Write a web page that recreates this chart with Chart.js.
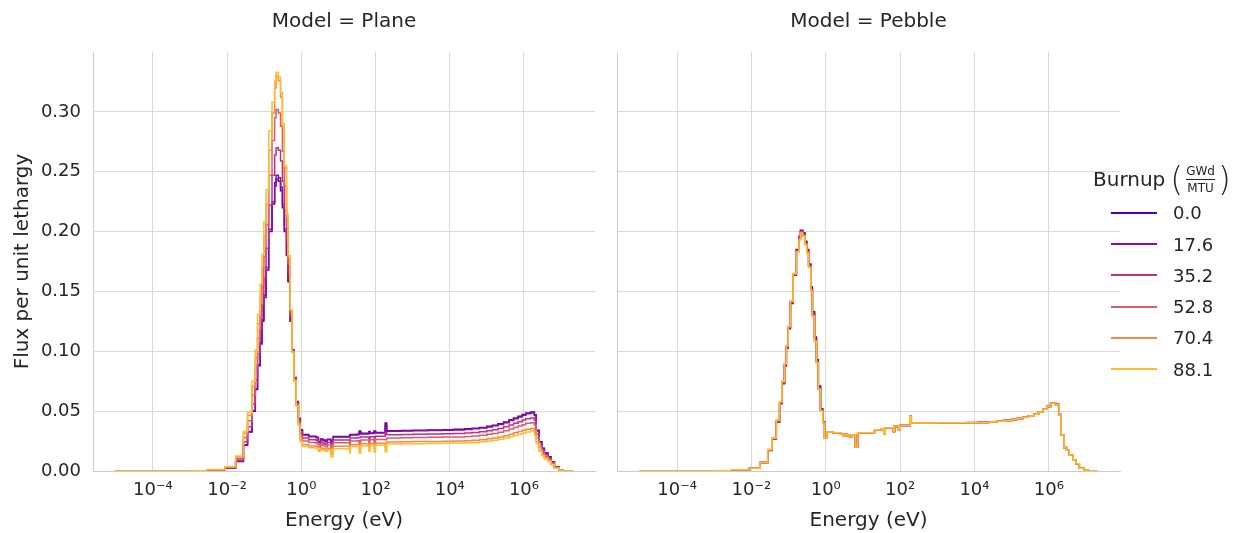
<!DOCTYPE html>
<html>
<head>
<meta charset="utf-8">
<script src="https://cdn.jsdelivr.net/npm/chart.js@4.4.1/dist/chart.umd.min.js"></script>
<style>
  html, body { margin: 0; padding: 0; background: #ffffff; }
  #wrap { position: relative; width: 1239px; height: 533px; overflow: hidden;
          font-family: "DejaVu Sans", sans-serif; color: #262626; }
  #wrap canvas { position: absolute; left: 0; top: 0; }
  .legend-title { position: absolute; left: 1093px; top: 160px; height: 38px;
                  display: flex; align-items: center; white-space: nowrap; }
  .legend-title .word { font-size: 20px; }
  .legend-title .paren { font-size: 33px; font-weight: 300; line-height: 1; margin: 0 1px; }
  .legend-title .frac { display: inline-flex; flex-direction: column; align-items: center;
                        font-size: 12px; line-height: 1; margin: 0 1px; }
  .legend-title .frac .num { padding: 0 1px 2px; }
  .legend-title .frac .den { padding: 2px 1px 0; border-top: 1px solid #262626; }
  .legend-row { position: absolute; left: 1111px; height: 20px; display: flex; align-items: center; }
  .legend-row .swatch { width: 46px; height: 2px; }
  .legend-row .txt { margin-left: 16px; font-size: 18px; }
</style>
</head>
<body>
<div id="wrap">
  <canvas id="plane" width="1239" height="533"></canvas>
  <canvas id="pebble" width="1239" height="533"></canvas>
  <div class="legend-title">
    <span class="word">Burnup</span>
    <span class="paren" style="margin-left:5px">(</span>
    <span class="frac"><span class="num">GWd</span><span class="den">MTU</span></span>
    <span class="paren">)</span>
  </div>
  <div id="legend"></div>
</div>
<script>
// Group lower edges in eV (last entry is the upper edge of the final group).
const ENERGY_EV = [
  1e-5, 1e-3, 2.82e-3, 8.91e-3, 1.70e-2, 2.75e-2, 3.55e-2, 4.68e-2, 5.75e-2, 6.61e-2,
  7.76e-2, 8.71e-2, 9.77e-2, 0.112, 0.132, 0.162, 0.191, 0.209, 0.240, 0.275,
  0.309, 0.347, 0.398, 0.437, 0.501, 0.562, 0.631, 0.724, 0.832, 0.933,
  1.07, 1.58, 2.51, 2.88, 3.31, 3.80, 4.37, 5.01, 6.31, 7.24,
  20.0, 20.9, 31.6, 36.3, 39.8, 66.1, 70.8, 91.2, 100, 182,
  200, 501, 1e3, 2.51e3, 6.31e3, 1.26e4, 2.51e4, 3.98e4, 6.31e4, 1e5,
  1.41e5, 2.0e5, 2.82e5, 3.98e5, 5.25e5, 6.92e5, 8.91e5,
  1.12e6, 1.51e6, 1.91e6, 2.14e6, 2.57e6, 3.02e6, 3.55e6, 4.47e6, 5.37e6, 6.61e6,
  8.91e6, 1.12e7, 2.0e7
];

const BURNUP_LABELS = ['0.0', '17.6', '35.2', '52.8', '70.4', '88.1'];

// Flux per unit lethargy, one value per group — plane model.
const PLANE_B00 = [
  0, .0002, .0008, .0026, .0080, .0215, .0325, .0500, .0680, .0880,
  .1060, .1250, .1450, .1680, .2000, .2230, .2380, .2440, .2420, .2340,
  .2200, .2000, .1800, .1580, .1250, .1010, .0780, .0580, .0440, .0345,
  .0305, .0290, .0282, .0245, .0268, .0258, .0248, .0265, .0240, .0288,
  .0300, .0305, .0308, .0335, .0315, .0330, .0318, .0335, .0322, .0400,
  .0337, .0339, .0341, .0343, .0345, .0348, .0352, .0357, .0364, .0373,
  .0383, .0395, .0410, .0428, .0443, .0458, .0472,
  .0485, .0492, .0470, .0340, .0245, .0190, .0150, .0118, .0078, .0036, .0010, .0002
];
const PLANE_B176 = [
  0, .0002, .0008, .0027, .0082, .0220, .0330, .0505, .0690, .0890,
  .1075, .1265, .1470, .1700, .2020, .2250, .2410, .2470, .2450, .2370,
  .2230, .2020, .1810, .1590, .1255, .1010, .0778, .0576, .0436, .0341,
  .0300, .0286, .0278, .0241, .0264, .0254, .0244, .0261, .0230, .0284,
  .0296, .0300, .0303, .0325, .0310, .0320, .0313, .0325, .0317, .0380,
  .0332, .0334, .0336, .0338, .0340, .0343, .0347, .0352, .0359, .0367,
  .0377, .0389, .0404, .0422, .0436, .0451, .0465,
  .0478, .0485, .0463, .0335, .0241, .0187, .0148, .0116, .0077, .0035, .0010, .0002
];
const PLANE_B352 = [
  0, .0002, .0009, .0029, .0092, .0245, .0370, .0560, .0760, .0980,
  .1180, .1390, .1610, .1860, .2220, .2470, .2640, .2700, .2680, .2590,
  .2420, .2180, .1920, .1660, .1290, .1005, .0770, .0565, .0420, .0315,
  .0275, .0261, .0254, .0221, .0241, .0232, .0223, .0239, .0200, .0259,
  .0250, .0275, .0277, .0280, .0284, .0270, .0286, .0275, .0290, .0320,
  .0303, .0305, .0307, .0309, .0311, .0313, .0317, .0321, .0328, .0336,
  .0345, .0356, .0369, .0385, .0399, .0412, .0425,
  .0437, .0443, .0423, .0306, .0221, .0171, .0135, .0106, .0070, .0032, .0009, .0002
];
const PLANE_B528 = [
  0, .0003, .0010, .0032, .0105, .0280, .0420, .0635, .0860, .1110,
  .1330, .1550, .1790, .2060, .2470, .2760, .2950, .3020, .2990, .2880,
  .2670, .2380, .2040, .1730, .1320, .1000, .0762, .0555, .0405, .0290,
  .0250, .0238, .0231, .0201, .0220, .0212, .0203, .0217, .0170, .0236,
  .0210, .0250, .0253, .0230, .0258, .0230, .0261, .0235, .0264, .0260,
  .0276, .0278, .0280, .0281, .0283, .0285, .0289, .0293, .0298, .0306,
  .0314, .0324, .0336, .0351, .0363, .0376, .0387,
  .0398, .0403, .0385, .0279, .0201, .0156, .0123, .0097, .0064, .0030, .0008, .0002
];
const PLANE_B704 = [
  0, .0003, .0011, .0035, .0118, .0315, .0465, .0705, .0950, .1230,
  .1470, .1700, .1960, .2230, .2680, .2990, .3200, .3300, .3260, .3120,
  .2870, .2530, .2120, .1780, .1340, .0995, .0755, .0548, .0390, .0262,
  .0220, .0209, .0203, .0176, .0193, .0186, .0179, .0191, .0140, .0207,
  .0175, .0220, .0222, .0185, .0227, .0195, .0229, .0195, .0232, .0200,
  .0243, .0244, .0246, .0247, .0248, .0251, .0253, .0257, .0262, .0269,
  .0276, .0284, .0295, .0308, .0319, .0330, .0340,
  .0349, .0354, .0338, .0245, .0176, .0137, .0108, .0085, .0056, .0026, .0007, .0001
];
const PLANE_B881 = [
  0, .0003, .0012, .0036, .0125, .0330, .0490, .0750, .1010, .1310,
  .1560, .1810, .2080, .2350, .2840, .3080, .3260, .3330, .3290, .3160,
  .2900, .2550, .2150, .1800, .1350, .0990, .0750, .0540, .0380, .0245,
  .0204, .0194, .0189, .0164, .0180, .0173, .0166, .0178, .0120, .0185,
  .0150, .0205, .0206, .0150, .0211, .0165, .0213, .0160, .0216, .0160,
  .0226, .0227, .0228, .0230, .0231, .0233, .0236, .0239, .0244, .0250,
  .0257, .0265, .0275, .0287, .0297, .0307, .0316,
  .0325, .0334, .0300, .0228, .0164, .0127, .0100, .0079, .0052, .0024, .0007, .0001
];

// Flux per unit lethargy, one value per group — pebble model.
const PEBBLE_B00 = [
  0, .0003, .0010, .0022, .0070, .0172, .0265, .0410, .0562, .0728,
  .0878, .1028, .1188, .1400, .1635, .1850, .1960, .2010, .1990, .1920,
  .1850, .1730, .1540, .1330, .1120, .0930, .0710, .0520, .0410, .0276,
  .0325, .0320, .0310, .0292, .0305, .0296, .0288, .0302, .0200, .0320,
  .0330, .0345, .0350, .0310, .0362, .0330, .0372, .0345, .0380, .0455,
  .0401, .0402, .0403, .0404, .0405, .0407, .0411, .0417, .0423, .0431,
  .0439, .0449, .0461, .0476, .0493, .0516, .0539,
  .0567, .0557, .0472, .0302, .0196, .0176, .0134, .0093, .0061, .0025, .0008, .0002
];
const PEBBLE_B176 = [
  0, .0003, .0010, .0022, .0070, .0174, .0267, .0414, .0566, .0733,
  .0883, .1033, .1193, .1405, .1638, .1845, .1950, .2005, .1980, .1910,
  .1840, .1720, .1525, .1315, .1105, .0920, .0700, .0512, .0406, .0276,
  .0325, .0320, .0310, .0292, .0305, .0296, .0288, .0302, .0200, .0320,
  .0330, .0345, .0350, .0310, .0362, .0330, .0372, .0345, .0380, .0455,
  .0400, .0401, .0402, .0403, .0404, .0406, .0410, .0416, .0422, .0430,
  .0438, .0448, .0460, .0475, .0492, .0515, .0538,
  .0566, .0556, .0471, .0301, .0196, .0175, .0133, .0092, .0060, .0024, .0008, .0002
];
const PEBBLE_B352 = [
  0, .0003, .0010, .0022, .0070, .0175, .0269, .0417, .0570, .0738,
  .0888, .1038, .1198, .1409, .1641, .1840, .1942, .2000, .1972, .1902,
  .1832, .1712, .1515, .1305, .1095, .0912, .0692, .0507, .0403, .0276,
  .0325, .0320, .0310, .0292, .0305, .0296, .0288, .0302, .0200, .0320,
  .0330, .0345, .0350, .0310, .0362, .0330, .0372, .0345, .0380, .0455,
  .0400, .0401, .0402, .0403, .0404, .0406, .0410, .0416, .0422, .0430,
  .0438, .0448, .0460, .0475, .0492, .0515, .0538,
  .0565, .0555, .0470, .0300, .0195, .0175, .0133, .0092, .0060, .0024, .0008, .0002
];
const PEBBLE_B528 = [
  0, .0003, .0010, .0022, .0070, .0177, .0271, .0420, .0574, .0743,
  .0893, .1043, .1203, .1413, .1644, .1835, .1936, .1995, .1966, .1896,
  .1826, .1706, .1508, .1297, .1087, .0906, .0686, .0503, .0402, .0276,
  .0325, .0320, .0310, .0292, .0305, .0296, .0288, .0302, .0200, .0320,
  .0330, .0345, .0350, .0310, .0362, .0330, .0372, .0345, .0380, .0455,
  .0400, .0401, .0402, .0403, .0404, .0406, .0410, .0416, .0422, .0430,
  .0438, .0448, .0460, .0475, .0492, .0515, .0538,
  .0565, .0555, .0470, .0300, .0195, .0175, .0133, .0092, .0060, .0024, .0008, .0002
];
const PEBBLE_B704 = [
  0, .0003, .0010, .0022, .0070, .0179, .0273, .0423, .0577, .0747,
  .0897, .1047, .1207, .1417, .1647, .1832, .1932, .1990, .1962, .1892,
  .1822, .1702, .1503, .1293, .1083, .0902, .0682, .0501, .0401, .0276,
  .0325, .0320, .0310, .0292, .0305, .0296, .0288, .0302, .0200, .0320,
  .0330, .0345, .0350, .0310, .0362, .0330, .0372, .0345, .0380, .0455,
  .0400, .0401, .0402, .0403, .0404, .0406, .0410, .0416, .0422, .0430,
  .0438, .0448, .0460, .0475, .0492, .0515, .0538,
  .0565, .0555, .0470, .0300, .0195, .0175, .0133, .0092, .0060, .0024, .0008, .0002
];
const PEBBLE_B881 = [
  0, .0003, .0010, .0022, .0070, .0180, .0275, .0425, .0580, .0750,
  .0900, .1050, .1210, .1420, .1650, .1830, .1930, .1985, .1960, .1890,
  .1820, .1700, .1500, .1290, .1080, .0900, .0680, .0500, .0400, .0276,
  .0325, .0320, .0310, .0292, .0305, .0296, .0288, .0302, .0200, .0320,
  .0330, .0345, .0350, .0310, .0362, .0330, .0372, .0345, .0380, .0455,
  .0400, .0401, .0402, .0403, .0404, .0406, .0410, .0416, .0422, .0430,
  .0438, .0448, .0460, .0475, .0492, .0515, .0538,
  .0565, .0555, .0470, .0300, .0195, .0175, .0133, .0092, .0060, .0024, .0008, .0002
];

const X_TICKS = [1e-4, 1e-2, 1, 1e2, 1e4, 1e6];
const X_TICK_LABELS = ['10\u207B\u2074', '10\u207B\u00B2', '10\u2070', '10\u00B2', '10\u2074', '10\u2076'];
const Y_TICKS = [0, 0.05, 0.10, 0.15, 0.20, 0.25, 0.30];

// Styling
const LINE_COLORS = ['#5402a3', '#8b0aa5', '#b83289', '#db5c68', '#f48849', '#febd2a'];
const TEXT = '#262626';
const GRID = '#d9d9d9';
const SPINE = '#cccccc';
const FONT = '"DejaVu Sans", sans-serif';
const W = 1239, H = 533;
const PLOT_TOP = 52, PLOT_BOTTOM = 471;
const X_LOG_MIN = -5.615, X_LOG_MAX = 7.915;

Chart.defaults.font.family = FONT;
Chart.defaults.color = TEXT;

// Each value holds from its lower edge up to the next edge.
function stepPoints(vals) {
  const pts = vals.map((v, i) => ({ x: ENERGY_EV[i], y: v }));
  pts.push({ x: ENERGY_EV[vals.length], y: vals[vals.length - 1] });
  return pts;
}

const panelTitle = {
  id: 'panelTitle',
  afterDraw(chart, args, opts) {
    const { ctx, chartArea } = chart;
    ctx.save();
    ctx.font = '20px ' + FONT;
    ctx.fillStyle = TEXT;
    ctx.textAlign = 'center';
    ctx.textBaseline = 'alphabetic';
    ctx.fillText(opts.text, (chartArea.left + chartArea.right) / 2, 27);
    ctx.restore();
  }
};

function makePanel(id, title, series, plotLeft, plotRight, showY) {
  const datasets = series.map((vals, i) => ({
    label: BURNUP_LABELS[i],
    data: stepPoints(vals),
    borderColor: LINE_COLORS[i],
    backgroundColor: LINE_COLORS[i],
    borderWidth: 1.5,
    pointRadius: 0,
    stepped: 'before',
    fill: false,
    order: series.length - i
  }));
  return new Chart(document.getElementById(id), {
    type: 'line',
    data: { datasets },
    options: {
      responsive: false,
      animation: false,
      devicePixelRatio: 1,
      layout: { padding: { left: 0, top: PLOT_TOP, right: W - plotRight, bottom: 0 } },
      plugins: {
        legend: { display: false },
        tooltip: { enabled: false },
        panelTitle: { text: title }
      },
      scales: {
        x: {
          type: 'logarithmic',
          min: Math.pow(10, X_LOG_MIN),
          max: Math.pow(10, X_LOG_MAX),
          afterFit: (s) => { s.height = H - PLOT_BOTTOM; },
          afterBuildTicks: (s) => { s.ticks = X_TICKS.map(v => ({ value: v })); },
          ticks: {
            callback: (v) => X_TICK_LABELS[X_TICKS.indexOf(v)],
            font: { size: 18 }, color: TEXT, padding: 9,
            autoSkip: false, maxRotation: 0
          },
          grid: { color: GRID, lineWidth: 1, drawTicks: false },
          border: { display: true, color: SPINE, width: 1 },
          title: { display: true, text: 'Energy (eV)', font: { size: 20 }, color: TEXT,
                   padding: { top: 0, bottom: 0.5 } }
        },
        y: {
          type: 'linear',
          min: 0,
          max: 0.35,
          afterFit: (s) => { s.width = plotLeft; },
          afterBuildTicks: (s) => { s.ticks = Y_TICKS.map(v => ({ value: v })); },
          ticks: {
            display: showY,
            callback: (v) => v.toFixed(2),
            font: { size: 18 }, color: TEXT, padding: 12
          },
          grid: { color: GRID, lineWidth: 1, drawTicks: false },
          border: { display: true, color: SPINE, width: 1 },
          title: { display: showY, text: 'Flux per unit lethargy', font: { size: 20 }, color: TEXT,
                   padding: { top: 10.5, bottom: 0 } }
        }
      }
    },
    plugins: [panelTitle]
  });
}

makePanel('plane', 'Model = Plane',
  [PLANE_B00, PLANE_B176, PLANE_B352, PLANE_B528, PLANE_B704, PLANE_B881], 93, 595, true);
makePanel('pebble', 'Model = Pebble',
  [PEBBLE_B00, PEBBLE_B176, PEBBLE_B352, PEBBLE_B528, PEBBLE_B704, PEBBLE_B881], 617, 1120, false);

// Legend entries
const legend = document.getElementById('legend');
BURNUP_LABELS.forEach((label, i) => {
  const row = document.createElement('div');
  row.className = 'legend-row';
  row.style.top = (212.7 + 31.3 * i - 10) + 'px';
  const sw = document.createElement('div');
  sw.className = 'swatch';
  sw.style.background = LINE_COLORS[i];
  const txt = document.createElement('span');
  txt.className = 'txt';
  txt.textContent = label;
  row.appendChild(sw);
  row.appendChild(txt);
  legend.appendChild(row);
});
</script>
</body>
</html>
